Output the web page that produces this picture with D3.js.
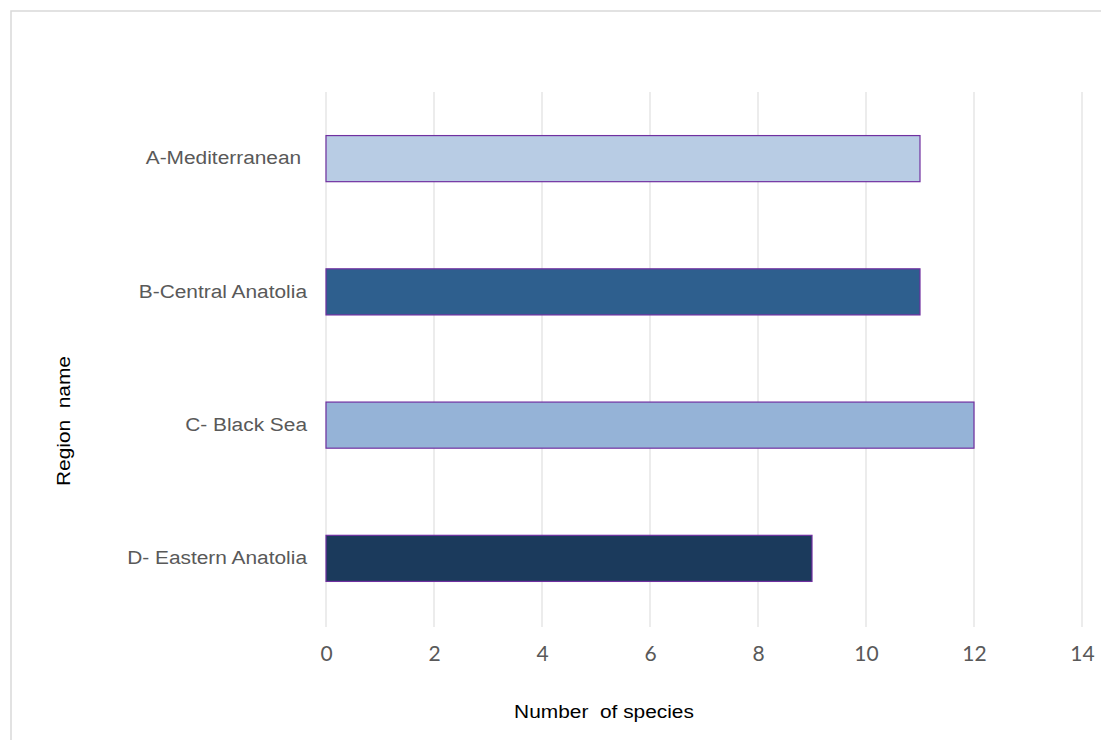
<!DOCTYPE html>
<html>
<head>
<meta charset="utf-8">
<script src="https://cdn.jsdelivr.net/npm/d3@7/dist/d3.min.js"></script>
<style>
  html, body { margin: 0; padding: 0; background: #fff; }
  svg { display: block; }
</style>
</head>
<body>
<svg id="chart" width="1101" height="740"></svg>
<script>
// Species counts per region
const regions = ["A-Mediterranean ", "B-Central Anatolia", "C- Black Sea", "D- Eastern Anatolia"];
const speciesCounts = [11, 11, 12, 9];
const barColors = ["#b8cce4", "#2e5f8e", "#95b3d7", "#1b3a5c"];
const xTicks = [0, 2, 4, 6, 8, 10, 12, 14];

const svg = d3.select("#chart");
const W = 1101, H = 740;
const labelFont = "'Liberation Sans', Arial, sans-serif";
const stretch = 1.16; // wide rendering of the label face

// chart frame
svg.append("rect")
  .attr("x", 11).attr("y", 11)
  .attr("width", W + 10).attr("height", H + 10)
  .attr("fill", "none").attr("stroke", "#d9d9d9").attr("stroke-width", 1.5);

const plot = { left: 326, right: 1082, top: 92, bottom: 625 };

const x = d3.scaleLinear().domain([0, 14]).range([plot.left, plot.right]);
const y = d3.scaleBand().domain(regions).range([plot.top, plot.bottom]).paddingInner(0.654).paddingOuter(0.327);

// vertical gridlines
svg.append("g")
  .selectAll("line")
  .data(xTicks)
  .join("line")
  .attr("x1", d => x(d)).attr("x2", d => x(d))
  .attr("y1", plot.top).attr("y2", plot.bottom + 2)
  .attr("stroke", "#d9d9d9").attr("stroke-width", 1);

// x axis labels
const xAxis = d3.axisBottom(x).tickValues(xTicks).tickSize(0).tickPadding(0);
const gx = svg.append("g").attr("transform", `translate(0, ${plot.bottom + 21})`).call(xAxis);
gx.select(".domain").remove();
gx.selectAll("text")
  .attr("font-family", "Lato, 'Open Sans', sans-serif")
  .attr("font-size", 21)
  .attr("fill", "#595959")
  .attr("dy", "0.71em");

// y axis labels
const yAxis = d3.axisLeft(y).tickSize(0).tickPadding(0);
const gy = svg.append("g").attr("transform", `translate(${plot.left - 19}, 0)`).call(yAxis);
gy.select(".domain").remove();
gy.selectAll("text")
  .attr("font-family", labelFont)
  .attr("font-size", 18)
  .attr("fill", "#595959")
  .attr("transform", `scale(${stretch},1)`)
  .style("white-space", "pre");

// bars
svg.append("g")
  .selectAll("rect")
  .data(regions.map((r, i) => ({ r, v: speciesCounts[i], c: barColors[i] })))
  .join("rect")
  .attr("x", x(0))
  .attr("y", d => y(d.r))
  .attr("width", d => x(d.v) - x(0))
  .attr("height", y.bandwidth())
  .attr("fill", d => d.c)
  .attr("stroke", "#7030a0")
  .attr("stroke-width", 1.2);

// axis titles
svg.append("text")
  .attr("transform", `translate(604, 718) scale(${stretch},1)`)
  .attr("text-anchor", "middle")
  .attr("font-family", labelFont)
  .attr("font-size", 18)
  .attr("fill", "#000")
  .style("white-space", "pre")
  .text("Number  of species");

svg.append("text")
  .attr("transform", `translate(70, 421) rotate(-90) scale(${stretch},1)`)
  .attr("text-anchor", "middle")
  .attr("font-family", labelFont)
  .attr("font-size", 18)
  .attr("fill", "#000")
  .style("white-space", "pre")
  .text("Region  name");
</script>
</body>
</html>
